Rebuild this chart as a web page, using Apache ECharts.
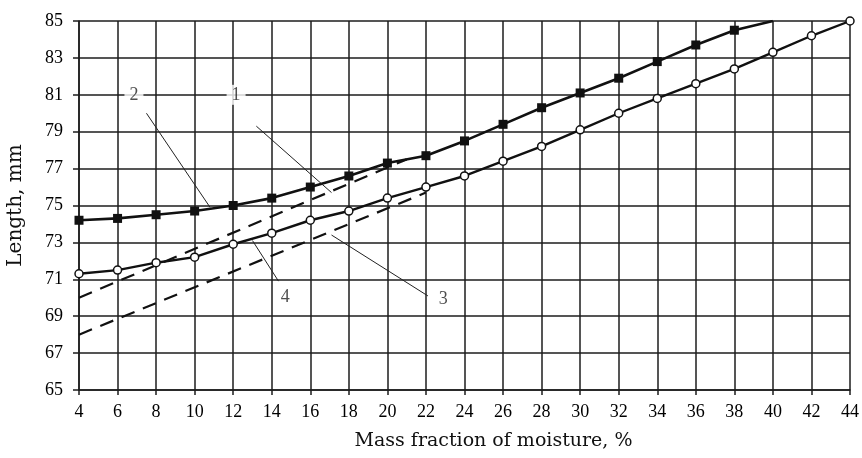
<!DOCTYPE html>
<html>
<head>
<meta charset="utf-8">
<script src="https://cdn.jsdelivr.net/npm/echarts@6/dist/echarts.min.js"></script>
<style>
  html, body { margin: 0; padding: 0; background: #fff; }
  #container { width: 862px; height: 458px; }
</style>
</head>
<body>
<div id="container"></div>
<script>
// moisture, % (x) and length, mm (y)
var squareX = [4, 6, 8, 10, 12, 14, 16, 18, 20, 22, 24, 26, 28, 30, 32, 34, 36, 38, 40];
var squareY = [74.2, 74.3, 74.5, 74.7, 75.0, 75.4, 76.0, 76.6, 77.3, 77.7, 78.5, 79.4, 80.3, 81.1, 81.9, 82.8, 83.7, 84.5, 85.0];
var circleX = [4, 6, 8, 10, 12, 14, 16, 18, 20, 22, 24, 26, 28, 30, 32, 34, 36, 38, 40, 42, 44];
var circleY = [71.3, 71.5, 71.9, 72.2, 72.9, 73.5, 74.2, 74.7, 75.4, 76.0, 76.6, 77.4, 78.2, 79.1, 80.0, 80.8, 81.6, 82.4, 83.3, 84.2, 85.0];
// straight dashed lines (start / end)
var dashUpper = [[4, 70.0], [21, 77.5]];
var dashLower = [[4, 68.0], [22, 75.7]];

var xTicks = {min: 4, max: 44, step: 2};
var yTicks = {min: 65, max: 85, step: 2};

// curve numbers and their leader lines
var curveLabels = [
  {name: '1', value: [12.15, 81.0]},
  {name: '2', value: [6.85, 81.0]},
  {name: '3', value: [22.9, 69.9]},
  {name: '4', value: [14.7, 70.0]}
];
var leaders = [
  [[13.2, 79.3], [17.1, 75.7]],
  [[7.5, 80.0], [10.8, 74.9]],
  [[22.1, 70.1], [17.1, 73.4]],
  [[14.35, 70.9], [13.0, 73.1]]
];

function pairs(xs, ys) {
  var out = [];
  for (var i = 0; i < xs.length; i++) out.push([xs[i], ys[i]]);
  return out;
}

var tickFont = '"Liberation Serif", serif';
var nameFont = '"DejaVu Serif", serif';
var gridColor = '#1c1c1c';

var squareData = pairs(squareX, squareY);
// last point (x=40) is only where the line leaves the frame, no marker
squareData[squareData.length - 1] = {value: squareData[squareData.length - 1], symbol: 'none'};

var option = {
  backgroundColor: '#fff',
  animation: false,
  grid: {left: 79, right: 12, top: 21, bottom: 68, outerBoundsMode: 'none', containLabel: false},
  xAxis: {
    type: 'value',
    min: xTicks.min, max: xTicks.max, interval: xTicks.step,
    name: 'Mass fraction of moisture, %',
    nameLocation: 'middle',
    nameGap: 42,
    nameTextStyle: {fontFamily: nameFont, fontSize: 19, color: '#111', padding: [0, 0, 0, 58]},
    axisLine: {lineStyle: {color: gridColor, width: 1.5}},
    axisTick: {show: true, length: 5, lineStyle: {color: gridColor, width: 1.5}},
    axisLabel: {fontFamily: tickFont, fontSize: 18, color: '#000', margin: 13},
    splitLine: {show: true, lineStyle: {color: gridColor, width: 1.5}}
  },
  yAxis: {
    type: 'value',
    min: yTicks.min, max: yTicks.max, interval: yTicks.step,
    name: 'Length, mm',
    nameLocation: 'middle',
    nameGap: 53,
    nameTextStyle: {fontFamily: nameFont, fontSize: 20, color: '#111'},
    axisLine: {show: true, lineStyle: {color: gridColor, width: 1.5}},
    axisTick: {show: true, length: 6, lineStyle: {color: gridColor, width: 1.5}},
    axisLabel: {fontFamily: tickFont, fontSize: 18, color: '#000', margin: 16},
    splitLine: {show: true, lineStyle: {color: gridColor, width: 1.5}}
  },
  series: [
    {
      name: 'upper dashed',
      type: 'line',
      data: dashUpper,
      symbol: 'none',
      lineStyle: {color: '#111', width: 2.2, type: [14, 9]},
      z: 3
    },
    {
      name: 'lower dashed',
      type: 'line',
      data: dashLower,
      symbol: 'none',
      lineStyle: {color: '#111', width: 2.2, type: [14, 9]},
      z: 3
    },
    {
      name: 'squares',
      type: 'line',
      data: squareData,
      symbol: 'rect',
      symbolSize: 9,
      itemStyle: {color: '#111'},
      lineStyle: {color: '#111', width: 2.6},
      z: 4
    },
    {
      name: 'circles',
      type: 'line',
      data: pairs(circleX, circleY),
      symbol: 'circle',
      symbolSize: 8,
      itemStyle: {color: '#fff', borderColor: '#111', borderWidth: 1.5},
      lineStyle: {color: '#111', width: 2.4},
      z: 4
    },
    {
      name: 'leaders',
      type: 'lines',
      coordinateSystem: 'cartesian2d',
      data: leaders.map(function (l) { return {coords: l}; }),
      lineStyle: {color: '#222', width: 1, type: 'solid', opacity: 1},
      z: 5
    },
    {
      name: 'numbers',
      type: 'scatter',
      data: curveLabels,
      symbolSize: 0,
      label: {
        show: true,
        position: 'inside',
        formatter: '{b}',
        fontFamily: tickFont,
        fontSize: 18,
        color: '#222',
        backgroundColor: '#fff',
        padding: [1, 5]
      },
      z: 6
    }
  ]
};

var chart = echarts.init(document.getElementById('container'));
chart.setOption(option);
</script>
</body>
</html>
